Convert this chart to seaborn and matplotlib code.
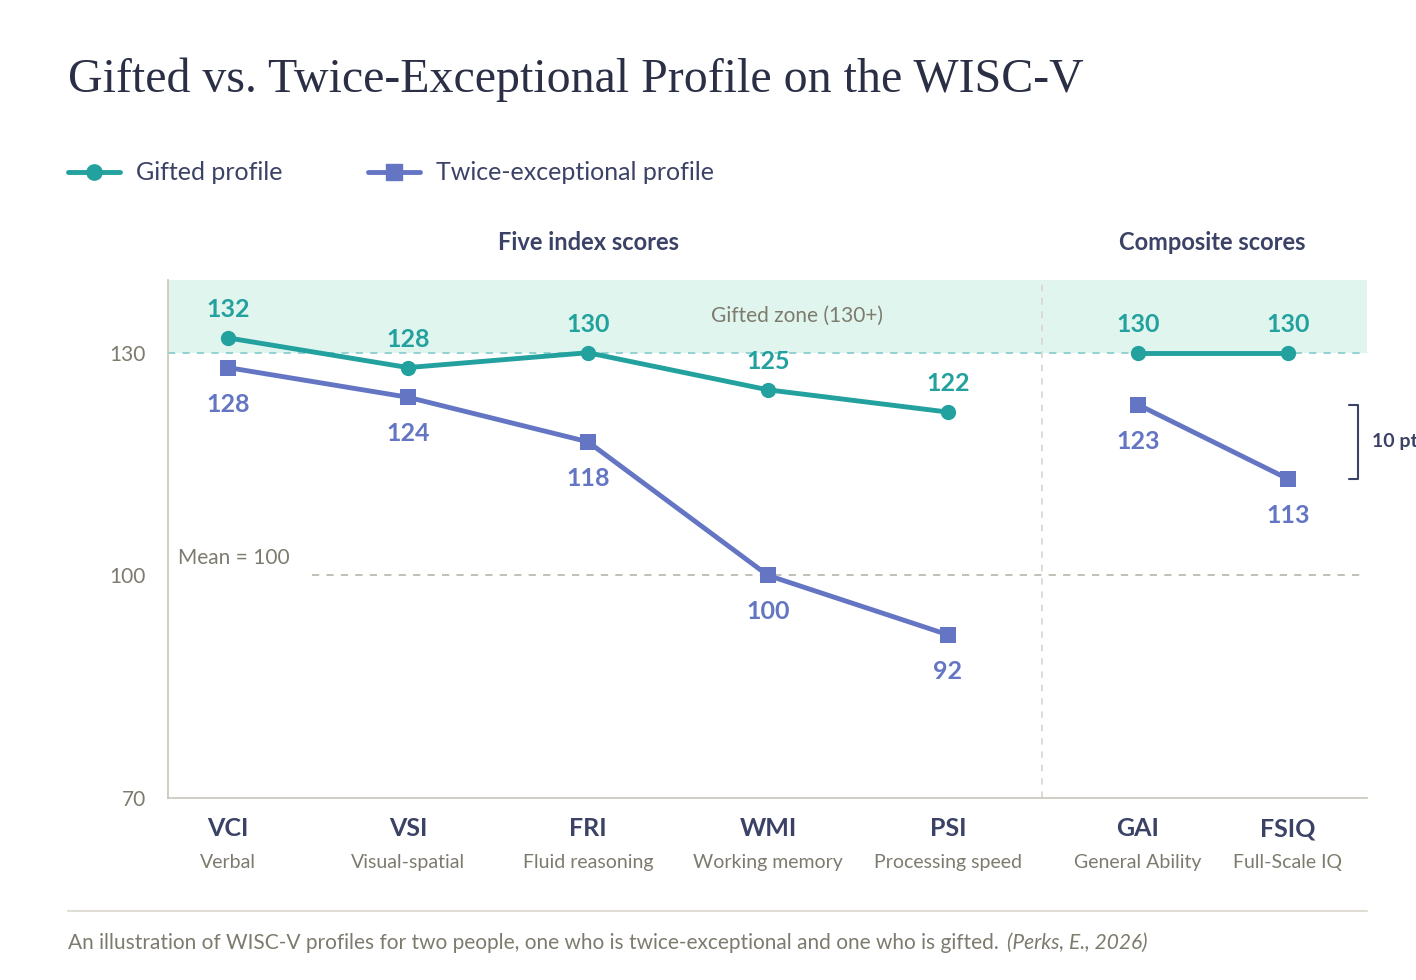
import numpy as np
import pandas as pd
import matplotlib
matplotlib.use("Agg")
import matplotlib.pyplot as plt
import seaborn as sns

codes = ["VCI", "VSI", "FRI", "WMI", "PSI", "GAI", "FSIQ"]
names = ["Verbal", "Visual-spatial", "Fluid reasoning", "Working memory",
         "Processing speed", "General Ability", "Full-Scale IQ"]
gifted = [132, 128, 130, 125, 122, 130, 130]
twice = [128, 124, 118, 100, 92, 123, 113]
yticks = [70, 100, 130]

xpos = [0, 1, 2, 3, 4, 5.056, 5.889]
TEAL = "#22a19f"
BLUE = "#6476c3"
NAVY = "#3b4266"
GRAY = "#7d7b6e"

sns.set_theme(style="white")
plt.rcParams['font.family'] = ['Lato', 'DejaVu Sans']

fig = plt.figure(figsize=(14.16, 9.8), dpi=100)
ax = fig.add_axes([0.1186, 0.1857, 0.8468, 0.5286])

df = pd.DataFrame({"x": xpos * 2, "score": gifted + twice,
                   "profile": ["Gifted profile"] * 7 + ["Twice-exceptional profile"] * 7,
                   "grp": (["i"] * 5 + ["c"] * 2) * 2})
ax.axhspan(130, 140, color="#e0f5ee", zorder=0, lw=0)
ax.axhline(130, color="#8ccfcf", ls=(0, (4, 4)), lw=1.3, zorder=1)
ax.plot([0.467, 6.29], [100, 100], color="#bdbab0", ls=(0, (4, 4)), lw=1.3, zorder=1)
ax.axvline(4.522, color="#d8d5cc", ls=(0, (4, 4)), lw=1.2, zorder=1)

for prof, col, mk in [("Gifted profile", TEAL, "o"), ("Twice-exceptional profile", BLUE, "s")]:
    for g in ["i", "c"]:
        sub = df[(df.profile == prof) & (df.grp == g)]
        sns.lineplot(data=sub, x="x", y="score", ax=ax, color=col, lw=3.5, marker=mk,
                     markersize=11, markeredgewidth=0, zorder=3, legend=False)

for x, gv, tv in zip(xpos, gifted, twice):
    ax.annotate(str(gv), (x, gv), xytext=(0, 12), textcoords="offset points", ha="center",
                va="bottom", color=TEAL, fontsize=18, fontweight="bold")
    ax.annotate(str(tv), (x, tv), xytext=(0, -18), textcoords="offset points", ha="center",
                va="top", color=BLUE, fontsize=18, fontweight="bold")

ax.text(3.16, 135, "Gifted zone (130+)", color=GRAY, fontsize=15, ha="center", va="center")
ax.text(-0.278, 102.4, "Mean = 100", color=GRAY, fontsize=15, ha="left", va="center")

# bracket 10 pts
bx = 6.28
ax.plot([bx - 0.05, bx, bx, bx - 0.05], [123, 123, 113, 113], color=NAVY, lw=1.5, clip_on=False)
ax.text(bx + 0.075, 118, "10 pts", color=NAVY, fontsize=14, fontweight="bold", va="center", clip_on=False)

ax.set_xlim(-0.333, 6.328)
ax.set_ylim(70, 139.8)
ax.set_yticks(yticks)
ax.set_yticklabels([str(v) for v in yticks], color=GRAY, fontsize=15)
ax.set_xticks(xpos)
ax.set_xticklabels([""] * 7)
ax.set_xlabel("")
ax.set_ylabel("")
ax.tick_params(axis="y", length=0, pad=16)
ax.tick_params(axis="x", length=0)
for s in ["top", "right"]:
    ax.spines[s].set_visible(False)
for s in ["left", "bottom"]:
    ax.spines[s].set_color("#c8c5bb")
    ax.spines[s].set_linewidth(1.2)

for x, c, n in zip(xpos, codes, names):
    ax.annotate(c, (x, 70), xytext=(0, -14), textcoords="offset points", ha="center", va="top",
                color=NAVY, fontsize=18, fontweight="bold")
    ax.annotate(n, (x, 70), xytext=(0, -40), textcoords="offset points", ha="center", va="top",
                color=GRAY, fontsize=14)

fig.text(588 / 1416, 1 - 243 / 980, "Five index scores", ha="center", va="center",
         color=NAVY, fontsize=17, fontweight="bold")
fig.text(1212 / 1416, 1 - 243 / 980, "Composite scores", ha="center", va="center",
         color=NAVY, fontsize=17, fontweight="bold")

fig.text(68 / 1416, 1 - 80 / 980, "Gifted vs. Twice-Exceptional Profile on the WISC-V",
         fontsize=34.5, color="#2b2f45", family=["Liberation Serif", "DejaVu Serif"], va="center")

# legend
y_leg = 1 - 172 / 980
fig.lines.append(plt.Line2D([68 / 1416, 120 / 1416], [y_leg] * 2, transform=fig.transFigure,
                            color=TEAL, lw=3.5))
fig.lines.append(plt.Line2D([94 / 1416], [y_leg], transform=fig.transFigure,
                            color=TEAL, marker="o", markersize=11, lw=0))
fig.text(136 / 1416, y_leg, "Gifted profile", fontsize=18, color=NAVY, va="center")
fig.lines.append(plt.Line2D([368 / 1416, 420 / 1416], [y_leg] * 2, transform=fig.transFigure,
                            color=BLUE, lw=3.5))
fig.lines.append(plt.Line2D([394 / 1416], [y_leg], transform=fig.transFigure,
                            color=BLUE, marker="s", markersize=11, lw=0))
fig.text(436 / 1416, y_leg, "Twice-exceptional profile", fontsize=18, color=NAVY, va="center")

fig.lines.append(plt.Line2D([68 / 1416, 1367 / 1416], [1 - 911 / 980] * 2, transform=fig.transFigure,
                            color="#e0ddd4", lw=1.5))
cap = fig.text(68 / 1416, 1 - 943 / 980,
               "An illustration of WISC-V profiles for two people, one who is twice-exceptional and one who is gifted.",
               fontsize=15, color=GRAY, va="center")
fig.canvas.draw()
bb = cap.get_window_extent()
fig.text((bb.x1 + 8) / 1416, 1 - 943 / 980, "(Perks, E., 2026)", fontsize=15, color=GRAY,
         va="center", style="italic")

fig.savefig("out.png", dpi=100, facecolor="white")
